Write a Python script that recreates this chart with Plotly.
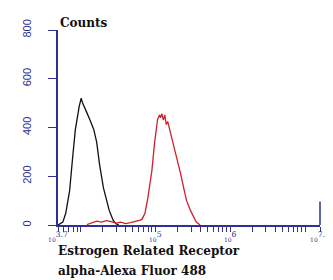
import plotly.graph_objects as go

# Control (black) histogram: fluorescence intensity vs counts
ctrl_x = [5012, 5321, 5817, 6358, 7161, 7834, 8551, 9638, 10230, 10690, 11190,
          12210, 13360, 15050, 16460, 18000, 20280, 22170, 24230, 27300, 29840, 32620]
ctrl_y = [0, 5, 12, 48, 140, 272, 392, 488, 520, 500, 488,
          460, 432, 392, 340, 248, 152, 100, 60, 20, 5, 0]

# Stained sample (red) histogram
samp_x = [12210, 14190, 16480, 19100, 22170, 25700, 29850, 34600, 40180, 46660,
          54100, 62800, 66630, 72800, 79600, 89700, 97970, 104000, 107100, 113800,
          117200, 122500, 128200, 134000, 140000, 146500, 153200, 162500, 177800,
          194400, 218800, 239300, 261600, 294600, 322300, 352400, 397000]
samp_y = [2, 10, 16, 12, 18, 14, 8, 12, 6, 10,
          14, 20, 24, 48, 112, 220, 340, 408, 432, 452,
          440, 456, 430, 452, 412, 424, 400, 380, 328,
          272, 208, 152, 100, 60, 32, 12, 0]

y_ticks = [0, 200, 400, 600, 800]
x_tick_exps = [3.7, 5, 6, 7.2]
x_tick_text = ["<span style='font-size:6px'>10</span><sup>3.7</sup>",
               "<span style='font-size:6px'>10</span><sup>5</sup>",
               "<span style='font-size:6px'>10</span><sup>6</sup>",
               "<span style='font-size:6px'>10</span><sup>7.2</sup>"]
x_title_lines = ["Estrogen Related Receptor", "alpha-Alexa Fluor 488"]
y_title = "Counts"

navy = "#2e3192"
serif = "DejaVu Serif"

fig = go.Figure()
fig.add_trace(go.Scatter(x=ctrl_x, y=ctrl_y, mode="lines",
                         line=dict(color="#111111", width=1.3), showlegend=False))
fig.add_trace(go.Scatter(x=samp_x, y=samp_y, mode="lines",
                         line=dict(color="#d0202a", width=1.3), showlegend=False))

minor_vals = [m * 10 ** k for k in range(3, 8) for m in range(2, 10)
              if 10 ** 3.7 < m * 10 ** k < 10 ** 7.2] + [1e4, 1e7]

# page shows the figure ~8px lower than its top edge: height reduced accordingly
fig.update_layout(
    width=333, height=272,
    margin=dict(l=50, r=11, t=17, b=55),
    paper_bgcolor="white", plot_bgcolor="white",
    xaxis=dict(type="log", range=[3.7, 7.2],
               tickvals=[10 ** e for e in x_tick_exps], ticktext=x_tick_text,
               ticks="outside", ticklen=5, tickcolor=navy, tickwidth=1.2,
               tickfont=dict(family=serif, size=11, color=navy),
               ticklabelstandoff=-3,
               showline=True, linecolor=navy, linewidth=1.5,
               showgrid=False, zeroline=False,
               minor=dict(tickvals=minor_vals, ticks="outside", ticklen=5,
                          tickcolor=navy, tickwidth=1.2, showgrid=False)),
    yaxis=dict(range=[0, 800], tickvals=y_ticks,
               ticks="outside", ticklen=8, tickcolor=navy, tickwidth=1.2,
               tickangle=-90, ticklabelstandoff=13,
               tickfont=dict(family="Liberation Sans", size=11, color=navy),
               showline=True, linecolor=navy, linewidth=1.5,
               showgrid=False, zeroline=False),
)

# short right-end marker line at the top of the x range
fig.add_shape(type="line", xref="paper", yref="paper", x0=1, x1=1, y0=0, y1=0.12,
              line=dict(color=navy, width=1.5))

fig.add_annotation(text="<b>" + y_title + "</b>", xref="paper", yref="paper", x=0, y=1,
                   xanchor="left", yanchor="middle", yshift=7, showarrow=False,
                   font=dict(family=serif, size=12, color="#111111"))
fig.add_annotation(text="<b>" + x_title_lines[0] + "</b>", xref="paper", yref="paper",
                   x=-0.008, y=-0.132, xanchor="left", yanchor="middle",
                   showarrow=False, font=dict(family=serif, size=12, color="#111111"))
fig.add_annotation(text="<b>" + x_title_lines[1] + "</b>", xref="paper", yref="paper",
                   x=-0.008, y=-0.235, xanchor="left", yanchor="middle",
                   showarrow=False, font=dict(family=serif, size=12, color="#111111"))

fig.write_html("out.html")
